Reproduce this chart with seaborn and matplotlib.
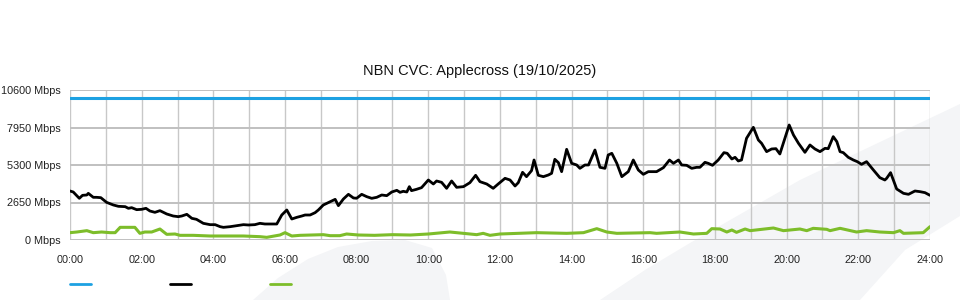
import matplotlib
matplotlib.use("Agg")
import matplotlib.pyplot as plt
from matplotlib.patches import Polygon
from matplotlib.lines import Line2D
import seaborn as sns
import pandas as pd

# ---------------- data ----------------
title = "NBN CVC: Applecross (19/10/2025)"
capacity_hours = [0, 24]
capacity_mbps = [10000, 10000]

download_hours = [0.00,0.09,0.26,0.35,0.47,0.51,0.65,0.74,0.86,1.02,
    1.21,1.35,1.54,1.63,1.72,1.86,2.00,2.12,2.23,2.37,
    2.51,2.70,2.88,3.02,3.12,3.26,3.40,3.53,3.72,3.91,
    4.05,4.19,4.28,4.47,4.65,4.84,4.98,5.16,5.30,5.44,
    5.63,5.77,5.91,6.05,6.19,6.33,6.47,6.56,6.70,6.84,
    6.93,7.07,7.26,7.40,7.49,7.63,7.77,7.91,8.00,8.14,
    8.28,8.42,8.56,8.70,8.84,8.98,9.12,9.21,9.30,9.40,
    9.47,9.53,9.67,9.81,10.00,10.14,10.23,10.37,10.51,10.65,
    10.79,10.98,11.16,11.32,11.44,11.63,11.81,11.95,12.14,12.28,
    12.42,12.51,12.63,12.74,12.88,12.95,13.07,13.21,13.35,13.44,
    13.53,13.63,13.72,13.86,14.00,14.14,14.23,14.37,14.47,14.65,
    14.79,14.93,15.02,15.12,15.26,15.40,15.58,15.72,15.86,16.00,
    16.14,16.37,16.56,16.73,16.84,16.91,16.98,17.07,17.21,17.35,
    17.49,17.58,17.72,17.81,17.93,18.09,18.25,18.34,18.47,18.56,
    18.65,18.74,18.88,19.07,19.21,19.30,19.44,19.58,19.70,19.81,
    20.07,20.19,20.33,20.51,20.65,20.79,20.93,21.07,21.16,21.30,
    21.40,21.49,21.58,21.72,21.86,21.97,22.09,22.23,22.42,22.60,
    22.74,22.79,22.90,23.07,23.26,23.40,23.58,23.72,23.86,24.00]
download_mbps = [3463,3393,2945,3157,3181,3298,3016,3016,2992,2662,
    2474,2380,2356,2238,2285,2144,2168,2238,2050,1955,
    2073,1838,1696,1649,1696,1814,1531,1461,1178,1084,
    1084,942,895,942,1013,1084,1060,1084,1178,1131,
    1131,1131,1767,2120,1484,1602,1696,1767,1767,1932,
    2120,2474,2709,2874,2427,2898,3228,2970,2950,3228,
    3063,2945,3016,3181,3133,3393,3510,3369,3440,3393,
    3770,3487,3581,3699,4241,3958,4170,4076,3652,4170,
    3722,3770,4052,4571,4123,3958,3652,3958,4359,4241,
    3817,4052,4783,4476,4900,5654,4571,4476,4594,4712,
    5702,5466,4830,6408,5419,5301,5065,5301,5301,6361,
    5136,5065,6008,6126,5419,4476,4830,5654,4948,4641,
    4830,4830,5113,5654,5419,5537,5654,5301,5277,5065,
    5136,5136,5489,5419,5277,5654,6173,6126,5725,5843,
    5584,5654,7186,7963,7068,6832,6243,6432,6455,6078,
    8128,7421,6832,6196,6715,6432,6243,6479,6455,7304,
    6950,6243,6173,5843,5654,5537,5348,5537,4948,4406,
    4241,4359,4759,3605,3298,3228,3463,3416,3346,3157]

upload_hours = [0.00,0.19,0.47,0.65,0.88,1.12,1.26,1.40,1.81,1.95,
    2.09,2.28,2.51,2.70,2.93,3.07,3.44,3.91,4.37,4.84,
    5.30,5.49,5.86,6.00,6.19,6.42,7.07,7.26,7.53,7.72,
    8.05,8.50,9.00,9.50,10.00,10.60,11.35,11.53,11.72,12.00,
    13.02,13.86,14.33,14.70,14.98,15.26,16.19,16.37,17.02,17.40,
    17.77,17.91,18.14,18.33,18.47,18.60,18.84,18.98,19.63,19.91,
    20.37,20.56,20.74,21.12,21.21,21.49,21.95,22.23,22.60,22.98,
    23.16,23.26,23.81,24.00]
upload_mbps = [518,565,660,518,565,518,518,895,895,471,
    565,565,777,400,424,330,330,283,283,283,
    236,188,353,518,283,330,377,306,306,424,
    353,330,377,353,424,565,377,471,330,424,
    518,471,518,801,565,471,518,471,565,424,
    471,801,777,565,707,542,777,660,848,660,
    777,660,825,754,660,825,565,660,565,518,
    660,471,518,942]

y_ticks = [0, 2650, 5300, 7950, 10600]
y_tick_labels = ["0 Mbps", "2650 Mbps", "5300 Mbps", "7950 Mbps", "10600 Mbps"]
x_ticks = list(range(0, 25, 2))
x_tick_labels = ["%02d:00" % h for h in x_ticks]

# ---------------- style ----------------
sns.set_style("white")
plt.rcParams["font.family"] = ["Liberation Sans", "DejaVu Sans"]

blue = "#1da1e2"
black = "#000000"
green = "#7dbd2a"

fig = plt.figure(figsize=(9.6, 3.0), dpi=100)
fig.patch.set_facecolor("white")

# light watermark shapes behind everything
wm = "#f4f5f7"
def fx(px, py):
    return (px / 960.0, 1 - py / 300.0)
hump = [fx(*p) for p in [(253, 300), (278, 278), (308, 259), (338, 247), (372, 241),
                         (405, 240), (432, 248), (446, 275), (450, 300)]]
band = [fx(*p) for p in [(600, 300), (645, 270), (690, 243), (800, 180), (960, 104),
                         (960, 216), (905, 250), (860, 300)]]
for pts in (hump, band):
    fig.patches.append(Polygon(pts, closed=True, transform=fig.transFigure,
                               facecolor=wm, edgecolor="none", zorder=-5))

ax = fig.add_axes([70/960, 60/300, 860/960, 150/300])
ax.set_facecolor("none")

cap_df = pd.DataFrame({"hour": capacity_hours, "mbps": capacity_mbps})
dl_df = pd.DataFrame({"hour": download_hours, "mbps": download_mbps})
ul_df = pd.DataFrame({"hour": upload_hours, "mbps": upload_mbps})

sns.lineplot(data=cap_df, x="hour", y="mbps", ax=ax, color=blue, lw=2.2, zorder=4)
sns.lineplot(data=dl_df, x="hour", y="mbps", ax=ax, color=black, lw=2.0, zorder=5)
sns.lineplot(data=ul_df, x="hour", y="mbps", ax=ax, color=green, lw=2.2, zorder=5)

ax.set_xlim(0, 24)
ax.set_ylim(0, 10600)
ax.set_xlabel("")
ax.set_ylabel("")

ax.set_yticks(y_ticks)
ax.set_yticklabels(y_tick_labels)
ax.set_xticks(x_ticks)
ax.set_xticklabels(x_tick_labels)
ax.set_xticks(range(0, 25), minor=True)

ax.tick_params(axis="y", length=0, pad=6.5, labelsize=7.8, labelcolor="#222222")
ax.tick_params(axis="x", which="major", length=10, width=1, color="#c4c4c4",
               pad=0.5, labelsize=7.8, labelcolor="#222222")
ax.tick_params(axis="x", which="minor", length=0)
for lab in ax.get_yticklabels():
    lab.set_verticalalignment("center_baseline")

ax.grid(False)
for h in range(0, 25):
    ax.axvline(h, color="#c8c8c8", lw=1.0, zorder=1)
for v in y_ticks:
    ax.axhline(v, color="#c0c0c0", lw=1.4, zorder=1)

for s in ax.spines.values():
    s.set_visible(False)

fig.text(0.5, 1 - 71/300, title, ha="center", va="center", fontsize=10.5, color="#111111")

handles = [Line2D([], [], color=blue, lw=2),
           Line2D([], [], color=black, lw=2),
           Line2D([], [], color=green, lw=2)]
fig.legend(handles, ["", "", ""], loc="center left", bbox_to_anchor=(70/960, 15/300),
           ncol=3, frameon=False, fontsize=8, handlelength=1.9, handletextpad=0.0,
           columnspacing=7.1, borderpad=0, borderaxespad=0)

fig.savefig("out.png", dpi=100, facecolor="white")
